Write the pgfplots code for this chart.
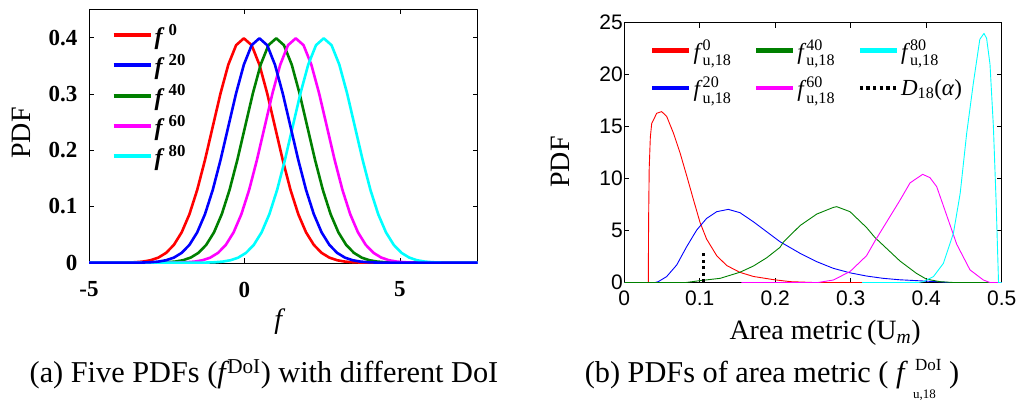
\documentclass[border=0pt]{standalone}
\usepackage{fontspec}
\setmainfont{Liberation Serif}
\newfontfamily\arial{Liberation Sans}
\usepackage{amsmath}
\usepackage{pgfplots}
\pgfplotsset{compat=1.18}
\definecolor{mred}{RGB}{255,0,0}
\definecolor{mblue}{RGB}{0,0,255}
\definecolor{mgreen}{RGB}{0,128,0}
\definecolor{mmag}{RGB}{255,0,255}
\definecolor{mcyan}{RGB}{0,255,255}
\begin{document}
\begin{tikzpicture}
\useasboundingbox (0pt,0pt) rectangle (1026pt,-403pt);
% ---------------- left panel ----------------
\begin{axis}[
  at={(89pt,-263.3pt)}, anchor=south west,
  scale only axis, width=388.7pt, height=254.3pt,
  xmin=-5, xmax=7.5, ymin=-0.001, ymax=0.451,
  xtick={-5,0,5}, ytick={0,0.1,0.2,0.3,0.4},
  tick align=inside, major tick length=5pt,
  every tick/.style={black, line width=0.6pt},
  axis line style={black, line width=0.9pt},
  /pgf/number format/assume math mode=true,
  ticklabel style={font=\fontsize{23}{23}\selectfont\bfseries},
  xticklabel style={yshift=-15pt},
  yticklabel style={xshift=-8pt},
  xlabel={\textit{f}},
  xlabel style={font=\fontsize{28}{28}\selectfont, at={(axis description cs:0.491,-0.231)}, anchor=center},
  ylabel={PDF},
  ylabel style={font=\fontsize{28}{28}\selectfont, at={(axis description cs:-0.175,0.512)}, anchor=center},
  legend cell align=left,
  legend style={draw=none, fill=none, inner sep=0pt, row sep=4.5pt,
    font=\fontsize{24}{24}\selectfont,
    at={(axis description cs:0.058,0.948)}, anchor=north west},
  legend image code/.code={\draw[#1, line width=4pt] (0pt,0pt) -- (37pt,0pt);},
  line join=round,
]
\addlegendimage{mred}
\addlegendentry{\textbf{\textit{f}}\,\textsuperscript{\textbf{0}}}
\addlegendimage{mblue}
\addlegendentry{\textbf{\textit{f}}\,\textsuperscript{\textbf{20}}}
\addlegendimage{mgreen}
\addlegendentry{\textbf{\textit{f}}\,\textsuperscript{\textbf{40}}}
\addlegendimage{mmag}
\addlegendentry{\textbf{\textit{f}}\,\textsuperscript{\textbf{60}}}
\addlegendimage{mcyan}
\addlegendentry{\textbf{\textit{f}}\,\textsuperscript{\textbf{80}}}
\addplot[mred, line width=2.6pt, forget plot] coordinates {(-5,0) (-4.02,0.00013) (-3.77,0.00035) (-3.52,0.00087) (-3.27,0.00203) (-3.02,0.00443) (-2.77,0.00909) (-2.52,0.01753) (-2.27,0.03174) (-2.02,0.05399) (-1.77,0.08628) (-1.52,0.12952) (-1.27,0.18265) (-1.02,0.24197) (-0.77,0.30114) (-0.52,0.35207) (-0.27,0.38667) (-0.02,0.39894) (0.23,0.38667) (0.48,0.35207) (0.73,0.30114) (0.98,0.24197) (1.23,0.18265) (1.48,0.12952) (1.73,0.08628) (1.98,0.05399) (2.23,0.03174) (2.48,0.01753) (2.73,0.00909) (2.98,0.00443) (3.23,0.00203) (3.48,0.00087) (3.73,0.00035) (3.98,0.00013) (7.5,0)};
\addplot[mgreen, line width=2.6pt, forget plot] coordinates {(-5,0) (-2.98,0.00013) (-2.73,0.00035) (-2.48,0.00087) (-2.23,0.00203) (-1.98,0.00443) (-1.73,0.00909) (-1.48,0.01753) (-1.23,0.03174) (-0.98,0.05399) (-0.73,0.08628) (-0.48,0.12952) (-0.23,0.18265) (0.02,0.24197) (0.27,0.30114) (0.52,0.35207) (0.77,0.38667) (1.02,0.39894) (1.27,0.38667) (1.52,0.35207) (1.77,0.30114) (2.02,0.24197) (2.27,0.18265) (2.52,0.12952) (2.77,0.08628) (3.02,0.05399) (3.27,0.03174) (3.52,0.01753) (3.77,0.00909) (4.02,0.00443) (4.27,0.00203) (4.52,0.00087) (4.77,0.00035) (5.02,0.00013) (7.5,0)};
\addplot[mmag, line width=2.6pt, forget plot] coordinates {(-5,0) (-2.35,0.00013) (-2.1,0.00035) (-1.85,0.00087) (-1.6,0.00203) (-1.35,0.00443) (-1.1,0.00909) (-0.85,0.01753) (-0.6,0.03174) (-0.35,0.05399) (-0.1,0.08628) (0.15,0.12952) (0.4,0.18265) (0.65,0.24197) (0.9,0.30114) (1.15,0.35207) (1.4,0.38667) (1.65,0.39894) (1.9,0.38667) (2.15,0.35207) (2.4,0.30114) (2.65,0.24197) (2.9,0.18265) (3.15,0.12952) (3.4,0.08628) (3.65,0.05399) (3.9,0.03174) (4.15,0.01753) (4.4,0.00909) (4.65,0.00443) (4.9,0.00203) (5.15,0.00087) (5.4,0.00035) (5.65,0.00013) (7.5,0)};
\addplot[mcyan, line width=2.6pt, forget plot] coordinates {(-5,0) (-1.45,0.00013) (-1.2,0.00035) (-0.95,0.00087) (-0.7,0.00203) (-0.45,0.00443) (-0.2,0.00909) (0.05,0.01753) (0.3,0.03174) (0.55,0.05399) (0.8,0.08628) (1.05,0.12952) (1.3,0.18265) (1.55,0.24197) (1.8,0.30114) (2.05,0.35207) (2.3,0.38667) (2.55,0.39894) (2.8,0.38667) (3.05,0.35207) (3.3,0.30114) (3.55,0.24197) (3.8,0.18265) (4.05,0.12952) (4.3,0.08628) (4.55,0.05399) (4.8,0.03174) (5.05,0.01753) (5.3,0.00909) (5.55,0.00443) (5.8,0.00203) (6.05,0.00087) (6.3,0.00035) (6.55,0.00013) (7.5,0)};
\addplot[mblue, line width=2.6pt, forget plot] coordinates {(-5,0) (-3.52,0.00013) (-3.27,0.00035) (-3.02,0.00087) (-2.77,0.00203) (-2.52,0.00443) (-2.27,0.00909) (-2.02,0.01753) (-1.77,0.03174) (-1.52,0.05399) (-1.27,0.08628) (-1.02,0.12952) (-0.77,0.18265) (-0.52,0.24197) (-0.27,0.30114) (-0.02,0.35207) (0.23,0.38667) (0.48,0.39894) (0.73,0.38667) (0.98,0.35207) (1.23,0.30114) (1.48,0.24197) (1.73,0.18265) (1.98,0.12952) (2.23,0.08628) (2.48,0.05399) (2.73,0.03174) (2.98,0.01753) (3.23,0.00909) (3.48,0.00443) (3.73,0.00203) (3.98,0.00087) (4.23,0.00035) (4.48,0.00013) (7.5,0)};
\end{axis}
% ---------------- right panel ----------------
\begin{axis}[
  at={(624.3pt,-282.7pt)}, anchor=south west,
  scale only axis, width=377.4pt, height=260pt,
  xmin=0, xmax=0.5, ymin=0, ymax=25,
  xtick={0,0.1,0.2,0.3,0.4,0.5}, ytick={0,5,10,15,20,25},
  tick align=inside, major tick length=5pt,
  every tick/.style={black, line width=0.6pt},
  axis line style={black, line width=0.8pt},
  /pgf/number format/assume math mode=true,
  ticklabel style={font=\arial\fontsize{21}{21}\selectfont},
  xticklabel style={yshift=-5pt},
  yticklabel style={xshift=2pt},
  xlabel={Area metric\,(U\textsubscript{\textit{m}})},
  xlabel style={font=\fontsize{28}{28}\selectfont, at={(axis description cs:0.532,-0.193)}, anchor=center},
  ylabel={PDF},
  ylabel style={font=\fontsize{28}{28}\selectfont, at={(axis description cs:-0.170,0.464)}, anchor=center},
  legend columns=3,
  legend cell align=left,
  legend style={draw=none, fill=none, inner sep=0pt, row sep=12pt,
    /tikz/every even column/.append style={column sep=20.5pt},
    font=\fontsize{23}{23}\selectfont,
    at={(axis description cs:0.068,0.942)}, anchor=north west},
  legend image code/.code={\draw[#1, line width=4.5pt] (0pt,0pt) -- (37pt,0pt);},
  line join=round,
]
\addlegendimage{mred}
\addlegendentry{\textit{f}$^{\text{0}}_{\text{u,18}}$}
\addlegendimage{mgreen}
\addlegendentry{\textit{f}$^{\text{40}}_{\text{u,18}}$}
\addlegendimage{mcyan}
\addlegendentry{\textit{f}$^{\text{80}}_{\text{u,18}}$}
\addlegendimage{mblue}
\addlegendentry{\textit{f}$^{\text{20}}_{\text{u,18}}$}
\addlegendimage{mmag}
\addlegendentry{\textit{f}$^{\text{60}}_{\text{u,18}}$}
\addlegendimage{black, dash pattern=on 3.3pt off 3.3pt}
\addlegendentry{\textit{D}\textsubscript{18}(\textit{α})}
\addplot[mred, line width=0.9pt, forget plot] coordinates {(0,0) (0.0318,0) (0.0322,6) (0.0330,11) (0.0345,14) (0.0363,15.3) (0.0429,16.29) (0.0495,16.45) (0.0561,16.0) (0.065,14.4) (0.0738,12.5) (0.0826,10.3) (0.0914,8.04) (0.1003,5.8) (0.109,4.2) (0.1224,2.6) (0.1357,1.65) (0.153,1.0) (0.171,0.6) (0.197,0.3) (0.22,0.1) (0.25,0.02) (0.315,0)};
\addplot[mblue, line width=0.9pt, forget plot] coordinates {(0,0) (0.040,0) (0.045,0.1) (0.056,0.58) (0.0694,1.7) (0.0826,3.46) (0.0959,5.06) (0.109,6.18) (0.1224,6.83) (0.1378,7.05) (0.1533,6.73) (0.171,5.86) (0.1887,4.9) (0.2063,3.94) (0.233,2.82) (0.255,2.02) (0.277,1.38) (0.299,0.95) (0.321,0.64) (0.343,0.42) (0.365,0.28) (0.387,0.2) (0.423,0.06) (0.43,0) (0.5,0)};
\addplot[mgreen, line width=0.9pt, forget plot] coordinates {(0,0) (0.08,0) (0.1003,0.2) (0.127,0.42) (0.153,1.0) (0.171,1.6) (0.1887,2.4) (0.2063,3.4) (0.2107,3.9) (0.233,5.5) (0.255,6.6) (0.277,7.24) (0.2814,7.31) (0.299,6.83) (0.321,5.3) (0.332,4.35) (0.343,3.6) (0.365,2.1) (0.387,0.9) (0.40,0.35) (0.418,0.1) (0.44,0) (0.5,0)};
\addplot[mmag, line width=0.9pt, forget plot] coordinates {(0.155,0) (0.255,0) (0.277,0.26) (0.299,1.07) (0.321,2.6) (0.332,4.0) (0.343,5.3) (0.365,7.9) (0.3786,9.6) (0.3953,10.42) (0.405,10.1) (0.4139,9.23) (0.427,6.5) (0.4404,3.7) (0.458,1.23) (0.4757,0.26) (0.485,0) (0.5,0)};
\addplot[mcyan, line width=0.9pt, forget plot] coordinates {(0.315,0) (0.39,0.03) (0.396,0.1) (0.4095,0.58) (0.4227,1.86) (0.436,4.74) (0.445,8.59) (0.4536,14.36) (0.4624,19.17) (0.471,23.4) (0.4765,23.97) (0.480,23.5) (0.4845,21) (0.489,15) (0.4925,8) (0.495,2) (0.4958,0) (0.5,0)};
\addplot[black, line width=3.5pt, dash pattern=on 3.3pt off 3.3pt, forget plot] coordinates {(0.1047,0) (0.1047,2.98)};
\end{axis}
% ---------------- captions ----------------
\node[anchor=base, font=\fontsize{30.3}{30.3}\selectfont, inner sep=0pt] at (264pt,-383pt)
  {(a) Five PDFs (\textit{f}\kern-2pt\textsuperscript{DoI}) with different DoI};
\node[anchor=base, font=\fontsize{30.3}{30.3}\selectfont, inner sep=0pt] at (772pt,-383pt)
  {(b) PDFs of area metric ( \textit{f}\,\makebox[0pt][l]{\raisebox{-0.52em}{\fontsize{13}{13}\selectfont u,18}}\raisebox{0.42em}{\fontsize{17}{17}\selectfont\kern2pt DoI} )};
\end{tikzpicture}
\end{document}
